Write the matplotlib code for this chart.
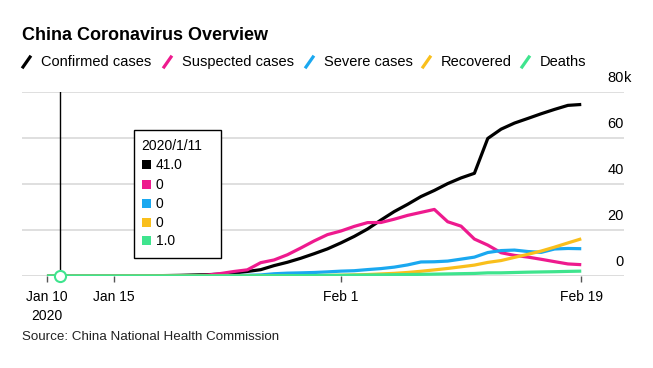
import matplotlib
matplotlib.use("Agg")
import matplotlib.pyplot as plt
import matplotlib.dates as mdates
import matplotlib.transforms as mtransforms
from matplotlib.lines import Line2D
from matplotlib.patches import Rectangle
import pandas as pd

plt.rcParams['font.family'] = ['Liberation Sans', 'DejaVu Sans']

# daily figures, Jan 10 .. Feb 19 2020
dates = pd.date_range('2020-01-10', '2020-02-19', freq='D')
confirmed = [41, 41, 41, 41, 41, 41, 45, 62, 121, 198,
             291, 440, 571, 830, 1287, 1975, 2744, 4515, 5974, 7711,
             9692, 11791, 14380, 17205, 20438, 24324, 28018, 31161, 34546, 37198,
             40171, 42638, 44653, 59804, 63851, 66492, 68500, 70548, 72436, 74185,
             74576]
suspected = [0, 0, 0, 0, 0, 0, 0, 0, 0, 0,
             54, 37, 393, 1072, 1965, 2684, 5794, 6973, 9239, 12167,
             15238, 17988, 19544, 21558, 23214, 23260, 24702, 26359, 27657, 28942,
             23589, 21675, 16067, 13435, 10109, 8969, 8228, 7264, 6242, 5248,
             4922]
severe = [0, 0, 0, 0, 0, 0, 0, 0, 0, 0,
          35, 102, 95, 177, 237, 324, 461, 976, 1239, 1370,
          1527, 1795, 2110, 2296, 2788, 3219, 3859, 4821, 6101, 6188,
          6484, 7333, 8204, 10204, 11053, 11272, 10644, 10278, 11741, 11977,
          11864]
recovered = [0, 0, 0, 0, 0, 0, 12, 15, 19, 24,
             25, 28, 28, 34, 38, 49, 51, 60, 103, 124,
             171, 243, 328, 475, 632, 892, 1153, 1540, 2050, 2649,
             3281, 3996, 4740, 5911, 6723, 8096, 9419, 10844, 12552, 14376,
             16155]
deaths = [1, 1, 1, 1, 1, 1, 2, 2, 3, 3,
          6, 9, 17, 25, 41, 56, 80, 106, 132, 170,
          213, 259, 304, 361, 425, 490, 563, 636, 722, 811,
          908, 1016, 1113, 1367, 1380, 1523, 1665, 1770, 1868, 2004,
          2118]

series_names = ['Confirmed cases', 'Suspected cases', 'Severe cases', 'Recovered', 'Deaths']
colors = ['#000000', '#ee1a8e', '#1aa8f0', '#f9bf1c', '#3fe48e']
tooltip_values = ['41.0', '0', '0', '0', '1.0']

yticks = [0, 20000, 40000, 60000, 80000]
ytick_labels = ['0', '20', '40', '60', '80']
xtick_dates = ['2020-01-10', '2020-01-15', '2020-02-01', '2020-02-19']
xtick_labels = ['Jan 10\n2020', 'Jan 15', 'Feb 1', 'Feb 19']
hover_date = pd.Timestamp('2020-01-11')

W, H = 653, 368
fig = plt.figure(figsize=(W / 100, H / 100), dpi=100)

def fx(px):
    return px / W

def fy(py):
    return 1 - py / H

ax = fig.add_axes([fx(22), fy(276), fx(624) - fx(22), fy(92) - fy(276)])

all_series = [confirmed, suspected, severe, recovered, deaths]
for vals, c in zip(all_series, colors):
    ax.plot(dates, vals, color=c, lw=2.3, solid_capstyle='butt', solid_joinstyle='round', zorder=3)

x0 = mdates.date2num(pd.Timestamp('2020-01-10'))
ax.set_xlim(x0 - 1.87, x0 + 43.2)
ax.set_ylim(0, 80000)

# gridlines and baseline
for v in yticks[1:]:
    ax.axhline(v, color='#dcdcdc', lw=1.3, zorder=1)
ax.axhline(0, color='#555555', lw=1.0, zorder=2)

for s in ax.spines.values():
    s.set_visible(False)
ax.set_yticks([])
ax.set_xticks(mdates.date2num(pd.to_datetime(xtick_dates)))
ax.set_xticklabels(xtick_labels, fontsize=10, linespacing=1.45)
ax.tick_params(axis='x', length=4, width=1, color='#555555', pad=6)

# right-side value labels, sitting above their gridlines
lab_tr = mtransforms.offset_copy(ax.get_yaxis_transform(), fig=fig, x=0, y=14, units='dots')
for v, lab in zip(yticks, ytick_labels):
    ax.text(1.0, v, lab, transform=lab_tr, ha='right', va='center', fontsize=10.5)
ax.text(1.0, 80000, 'k', transform=lab_tr, ha='left', va='center', fontsize=10.5)

# hover line and marker
hx = mdates.date2num(hover_date)
ax.plot([hx, hx], [0, 80000], color='black', lw=1, zorder=4)
ax.plot([hx], [deaths[1]], marker='o', ms=8, mfc='white', mec=colors[4], mew=1.5, zorder=5, clip_on=False)

# title and legend
fig.text(fx(22), fy(35), 'China Coronavirus Overview', fontsize=13, fontweight='bold', va='center')
leg_x = [23, 164, 306, 423, 522]
for lx, name, c in zip(leg_x, series_names, colors):
    fig.add_artist(Line2D([fx(lx), fx(lx + 7)], [fy(67), fy(57)], color=c, lw=2.3))
    fig.text(fx(lx + 18), fy(62), name, fontsize=10.5, va='center')

# tooltip box
fig.add_artist(Rectangle((fx(134), fy(258)), fx(221) - fx(134), fy(130) - fy(258),
                         transform=fig.transFigure, facecolor='white', edgecolor='black', lw=1, zorder=10))
fig.text(fx(141), fy(146), '2020/1/11', fontsize=10, va='center', zorder=11)
row_y = [165, 185, 204, 223, 241]
for ry, c, val in zip(row_y, colors, tooltip_values):
    fig.add_artist(Rectangle((fx(142), fy(ry + 4)), fx(9), 9 / H, transform=fig.transFigure,
                             facecolor=c, edgecolor='none', zorder=11))
    fig.text(fx(156), fy(ry), val, fontsize=10, va='center', zorder=11)

fig.text(fx(22), fy(337), 'Source: China National Health Commission', fontsize=9.6, va='center', color='#222222')

fig.savefig('out.png', dpi=100)
